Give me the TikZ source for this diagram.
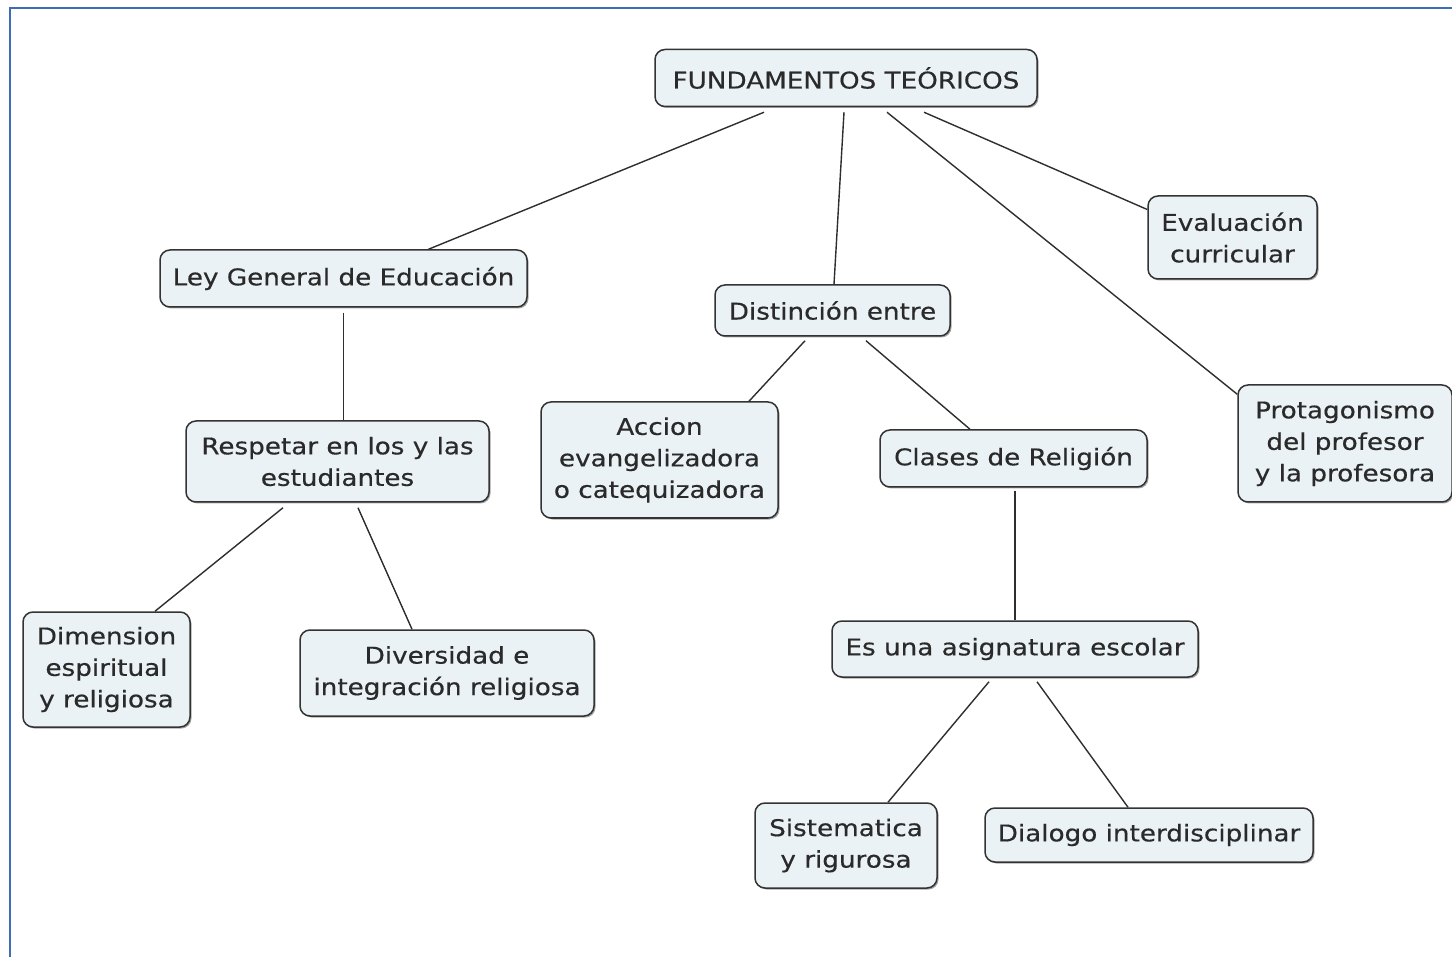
\documentclass[tikz,border=0pt]{standalone}
\usepackage{fontspec}
\setmainfont{DejaVu Sans}[FakeStretch=1.14, FakeBold=0.4]
\usetikzlibrary{shadows,calc}
\definecolor{boxfill}{HTML}{EBF2F5}
\definecolor{boxline}{HTML}{333333}
\definecolor{txt}{HTML}{2A2A2A}
\definecolor{framecol}{HTML}{3D6DB5}
\definecolor{conn}{HTML}{2E2E2E}
\begin{document}
\begin{tikzpicture}[x=1pt,y=-1pt,
 concept/.style={draw=boxline, line width=1.5pt, fill=boxfill, rounded corners=10pt, text=txt,
   font=\fontsize{23}{31.5}\selectfont, align=center, inner sep=0pt,
   general shadow={fill=black!35, shadow xshift=1.5pt, shadow yshift=-1.5pt, rounded corners=10pt}},
 link/.style={draw=conn, line width=1.4pt}]
\useasboundingbox (0,0) rectangle (1452,957);
\fill[white] (0,0) rectangle (1452,957);
\draw[framecol, line width=2.5pt] (10,957) -- (10,8) -- (1452,8);

\node[concept, minimum width=382, minimum height=57] (f) at (846,78) {FUNDAMENTOS TEÓRICOS};
\node[concept, minimum width=367, minimum height=57] (ley) at (343.5,278.5) {Ley General de Educación};
\node[concept, minimum width=235, minimum height=51] (dist) at (832.5,310.5) {Distinción entre};
\node[concept, minimum width=169, minimum height=83] (eval) at (1232.5,237.5) {Evaluación\\curricular};
\node[concept, minimum width=214, minimum height=117] (prot) at (1345,443.5) {Protagonismo\\del profesor\\y la profesora};
\node[concept, minimum width=303, minimum height=81] (resp) at (337.5,461.5) {Respetar en los y las\\estudiantes};
\node[concept, minimum width=237, minimum height=116] (acc) at (659.5,460) {Accion\\evangelizadora\\o catequizadora};
\node[concept, minimum width=267, minimum height=57] (cla) at (1013.5,458.5) {Clases de Religión};
\node[concept, minimum width=167, minimum height=115] (dim) at (106.5,669.5) {Dimension\\espiritual\\y religiosa};
\node[concept, minimum width=294, minimum height=86] (div) at (447,673) {Diversidad e\\integración religiosa};
\node[concept, minimum width=366, minimum height=56] (es) at (1015,649) {Es una asignatura escolar};
\node[concept, minimum width=182, minimum height=85] (sis) at (846,845.5) {Sistematica\\y rigurosa};
\node[concept, minimum width=328, minimum height=54] (dial) at (1149,835) {Dialogo interdisciplinar};

\draw[link] ($(f.south)+(-82,5)$) -- ($(ley.north)+(85,0)$);
\draw[link] ($(f.south)+(-2,5)$) -- ($(dist.north)+(1.5,0)$);
\draw[link] ($(f.south)+(41,5)$) -- ($(prot.north west)+(0,10)$);
\draw[link] ($(f.south)+(78,5)$) -- ($(eval.west)+(0,-28)$);
\draw[link] ($(ley.south)+(0,5)$) -- ($(resp.north)+(6,0)$);
\draw[link] ($(resp.south)+(-54.5,5)$) -- ($(dim.north)+(48.5,0)$);
\draw[link] ($(resp.south)+(20.5,5)$) -- ($(div.north)+(-35,0)$);
\draw[link] ($(dist.south)+(-27.5,4)$) -- ($(acc.north)+(89.5,0)$);
\draw[link] ($(dist.south)+(33.5,4)$) -- ($(cla.north)+(-43.5,0)$);
\draw[link] ($(cla.south)+(1.5,3)$) -- (es.north);
\draw[link] ($(es.south)+(-26,4)$) -- ($(sis.north)+(42,0)$);
\draw[link] ($(es.south)+(22,4)$) -- ($(dial.north)+(-21,0)$);
\end{tikzpicture}
\end{document}
